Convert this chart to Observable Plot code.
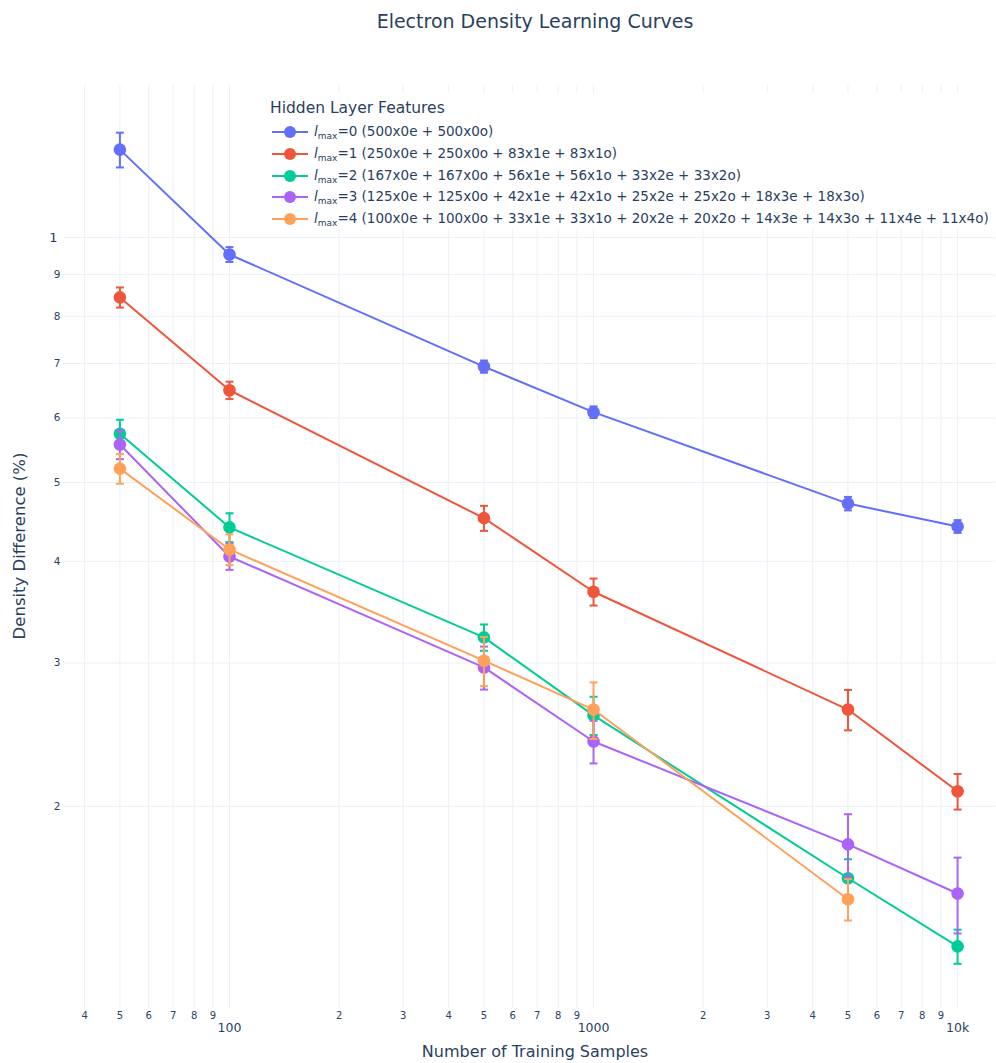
<!DOCTYPE html>
<html>
<head>
<meta charset="utf-8">
<script src="https://cdn.jsdelivr.net/npm/d3@7"></script>
<script src="https://cdn.jsdelivr.net/npm/@observablehq/plot@0.6"></script>
<style>
  body { margin: 0; background: #fff; }
  #wrap { position: relative; width: 996px; height: 1063px; font-family: "DejaVu Sans", Verdana, sans-serif; color: #2a3f5f; }
  .abs { position: absolute; white-space: nowrap; }
  #legend { position: absolute; left: 262px; top: 93px; width: 733px; height: 136px; background: #fff; }
  #legend .ttl { position: absolute; left: 8px; top: 6px; font-size: 15.5px; }
  #legend .item { position: absolute; left: 8px; font-size: 13.5px; display: flex; align-items: center; }
  #legend sub { font-size: 9px; vertical-align: -3px; }
</style>
</head>
<body>
<div id="wrap">
  <div id="chart"></div>
  <div class="abs" id="title" style="left:335px;width:400px;top:10px;text-align:center;font-size:19px;">Electron Density Learning Curves</div>
  <div class="abs" id="xtitle" style="left:335px;width:400px;top:1042px;text-align:center;font-size:16px;">Number of Training Samples</div>
  <div class="abs" id="ytitle" style="left:19px;top:546px;transform:translate(-50%,-50%) rotate(-90deg);font-size:16.5px;">Density Difference (%)</div>
  <div id="legend"></div>
</div>
<script>
// ---- data ----
const samples = [50, 100, 500, 1000, 5000, 10000];

const lmax0 = [1.282, 0.953, 0.694, 0.610, 0.471, 0.4415];
const err0  = [0.063, 0.020, 0.012, 0.010, 0.009, 0.008];

const lmax1 = [0.844, 0.649, 0.452, 0.367, 0.263, 0.2087];
const err1  = [0.024, 0.016, 0.016, 0.014, 0.015, 0.0105];

const lmax2 = [0.574, 0.4403, 0.3226, 0.2587, 0.1632, 0.1346];
const err2  = [0.023, 0.018, 0.012, 0.014, 0.009, 0.0065];

const lmax3 = [0.5566, 0.4055, 0.2963, 0.2403, 0.1796, 0.1563];
const err3  = [0.0225, 0.015, 0.018, 0.0145, 0.016, 0.0167];

const lmax4 = [0.520, 0.4137, 0.302, 0.263, 0.1538];
const err4  = [0.0218, 0.018, 0.021, 0.021, 0.009];

const seriesNames = ["0", "1", "2", "3", "4"];
const seriesDescs = [
  "(500x0e + 500x0o)",
  "(250x0e + 250x0o + 83x1e + 83x1o)",
  "(167x0e + 167x0o + 56x1e + 56x1o + 33x2e + 33x2o)",
  "(125x0e + 125x0o + 42x1e + 42x1o + 25x2e + 25x2o + 18x3e + 18x3o)",
  "(100x0e + 100x0o + 33x1e + 33x1o + 20x2e + 20x2o + 14x3e + 14x3o + 11x4e + 11x4o)"
];
const seriesColors = ["#636efa", "#EF553B", "#00cc96", "#ab63fa", "#FFA15A"];
const seriesValues = [lmax0, lmax1, lmax2, lmax3, lmax4];
const seriesErrors = [err0, err1, err2, err3, err4];

const xTicksMinor = [40,50,60,70,80,90,200,300,400,500,600,700,800,900,2000,3000,4000,5000,6000,7000,8000,9000];
const xTicksMajor = [100, 1000, 10000];
const xTickLabelsMajor = ["100", "1000", "10k"];
const yTicksMinor = [0.2,0.3,0.4,0.5,0.6,0.7,0.8,0.9];
const yTicksMajor = [1];
const yTickLabelsMajor = ["1"];

// ---- build ----
const textColor = "#2a3f5f";
const gridColor = "#ebf0f8";
const firstDigit = d => String(Math.round(d / Math.pow(10, Math.floor(Math.log10(d) + 1e-9))));
const capSymbol = { draw(ctx) { ctx.moveTo(-4, 0); ctx.lineTo(4, 0); } };

const seriesMarks = [];
seriesValues.forEach((vals, i) => {
  const rows = vals.map((v, j) => ({ x: samples[j], y: v, lo: v - seriesErrors[i][j], hi: v + seriesErrors[i][j] }));
  const c = seriesColors[i];
  seriesMarks.push(
    Plot.line(rows, { x: "x", y: "y", stroke: c, strokeWidth: 2 }),
    Plot.ruleX(rows, { x: "x", y1: "lo", y2: "hi", stroke: c, strokeWidth: 2 }),
    Plot.dot(rows, { x: "x", y: "lo", symbol: capSymbol, fill: "none", stroke: c, strokeWidth: 2 }),
    Plot.dot(rows, { x: "x", y: "hi", symbol: capSymbol, fill: "none", stroke: c, strokeWidth: 2 }),
    Plot.dot(rows, { x: "x", y: "y", r: 6.3, fill: c, stroke: "none" })
  );
});

const chart = Plot.plot({
  width: 996,
  height: 1063,
  marginLeft: 63,
  marginRight: 1,
  marginTop: 85,
  marginBottom: 55,
  style: { fontFamily: "DejaVu Sans, Verdana, sans-serif", color: textColor, background: "#fff" },
  x: { type: "log", domain: [35, 12710], label: null, axis: null },
  y: { type: "log", domain: [0.1129, 1.537], label: null, axis: null },
  marks: [
    Plot.ruleX(xTicksMinor.concat(xTicksMajor), { stroke: gridColor, strokeWidth: 1 }),
    Plot.ruleY(yTicksMinor.concat(yTicksMajor), { stroke: gridColor, strokeWidth: 1 }),
    Plot.text(xTicksMinor, { x: d => d, text: firstDigit, frameAnchor: "bottom", lineAnchor: "top", dy: 3, fontSize: 10, fill: textColor }),
    Plot.text(xTicksMajor, { x: d => d, text: d => xTickLabelsMajor[xTicksMajor.indexOf(d)], frameAnchor: "bottom", lineAnchor: "top", dy: 15, fontSize: 12.5, fill: textColor }),
    Plot.text(yTicksMinor, { y: d => d, text: firstDigit, frameAnchor: "left", textAnchor: "end", dx: -3, fontSize: 10.5, fill: textColor }),
    Plot.text(yTicksMajor, { y: d => d, text: d => yTickLabelsMajor[yTicksMajor.indexOf(d)], frameAnchor: "left", textAnchor: "end", dx: -6, fontSize: 13, fill: textColor }),
    ...seriesMarks
  ]
});
document.getElementById("chart").appendChild(chart);

// ---- legend ----
const legend = document.getElementById("legend");
const lt = document.createElement("div");
lt.className = "ttl";
lt.textContent = "Hidden Layer Features";
legend.appendChild(lt);
seriesNames.forEach((n, i) => {
  const it = document.createElement("div");
  it.className = "item";
  it.style.top = (30 + i * 21.8) + "px";
  it.innerHTML = `<svg width="40" height="14" style="margin-right:4px"><line x1="2" x2="38" y1="7" y2="7" stroke="${seriesColors[i]}" stroke-width="2"/><circle cx="20" cy="7" r="6" fill="${seriesColors[i]}"/></svg><span><i>l</i><sub>max</sub>=${n} ${seriesDescs[i]}</span>`;
  legend.appendChild(it);
});
</script>
</body>
</html>
